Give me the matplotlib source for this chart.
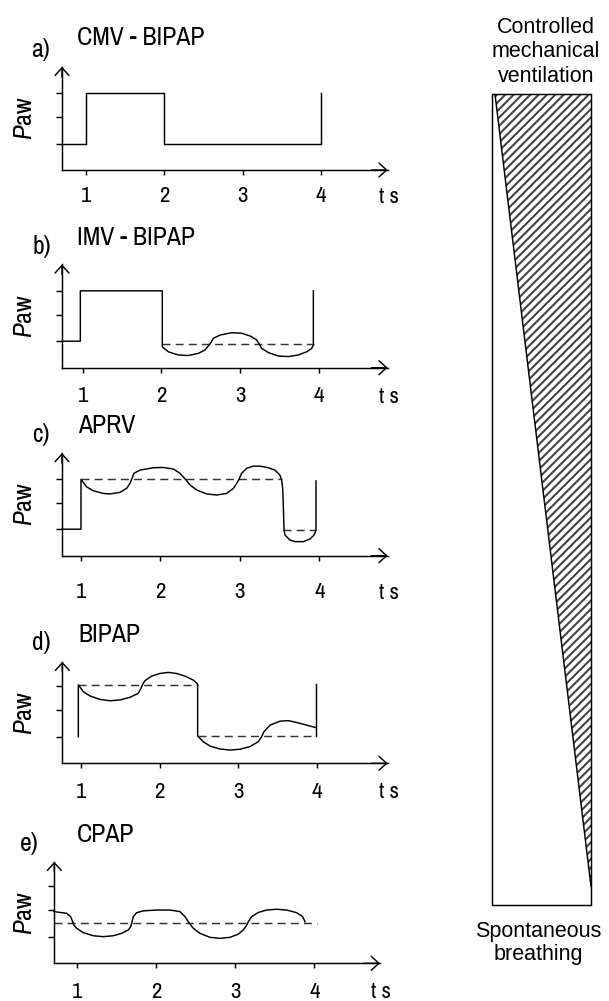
import matplotlib
matplotlib.use('Agg')
import matplotlib.pyplot as plt
from matplotlib import font_manager as fm
from matplotlib.patches import Polygon, Rectangle

# ---------------- data ----------------
tick_x = [1, 2, 3, 4]
tick_labels = ['1', '2', '3', '4']
level_ticks = [1, 2, 2.9]
panel_labels = ['a)', 'b)', 'c)', 'd)', 'e)']
panel_titles = ['CMV - BIPAP', 'IMV - BIPAP', 'APRV', 'BIPAP', 'CPAP']
x_label = 't s'
y_label = r'$P$aw'
top_text = ['Controlled', 'mechanical', 'ventilation']
bottom_text = ['Spontaneous', 'breathing']

# a) CMV - BIPAP
a_t = [0.70, 1.0, 1.0, 2.0, 2.0, 4.0, 4.0]
a_p = [1.0, 1.0, 2.9, 2.9, 1.0, 1.0, 2.9]

# b) IMV - BIPAP
b_t = [0.74, 0.97, 0.97, 2.01, 2.01, 2.087, 2.214, 2.340, 2.467, 2.552, 2.594,
       2.615, 2.658, 2.742, 2.890, 3.017, 3.123, 3.207, 3.241, 3.271, 3.356,
       3.483, 3.610, 3.736, 3.842, 3.906, 3.927, 3.927]
b_p = [1.0, 1.0, 2.9, 2.9, 0.79, 0.60, 0.48, 0.46, 0.54, 0.67, 0.82,
       0.89, 1.11, 1.23, 1.32, 1.30, 1.20, 1.05, 0.89, 0.73, 0.57,
       0.44, 0.42, 0.48, 0.60, 0.73, 0.856, 2.9]
b_ref_t = [2.01, 3.93]
b_ref_p = [0.89, 0.89]

# c) APRV
c_t = [0.76, 1.00, 1.00, 1.07, 1.155, 1.28, 1.365, 1.49, 1.575, 1.617, 1.638,
       1.667, 1.743, 1.911, 2.037, 2.163, 2.247, 2.297, 2.323, 2.373, 2.457,
       2.583, 2.709, 2.835, 2.919, 2.961, 2.990, 3.023, 3.087, 3.171, 3.254,
       3.359, 3.443, 3.506, 3.527, 3.540, 3.548, 3.557, 3.569, 3.632, 3.695,
       3.800, 3.884, 3.935, 3.960, 3.960]
c_p = [1.0, 1.0, 2.88, 2.60, 2.45, 2.35, 2.33, 2.39, 2.54, 2.73, 2.88,
       3.11, 3.23, 3.32, 3.33, 3.27, 3.11, 2.94, 2.86, 2.67, 2.48,
       2.33, 2.29, 2.35, 2.54, 2.73, 2.88, 3.11, 3.30, 3.38, 3.38,
       3.32, 3.23, 3.04, 2.86, 2.54, 1.91, 0.97, 0.78, 0.59, 0.53,
       0.53, 0.63, 0.78, 0.97, 2.82]
c_ref_hi_t = [1.00, 3.53]
c_ref_hi_p = [2.88, 2.88]
c_ref_lo_t = [3.55, 3.96]
c_ref_lo_p = [0.97, 0.97]

# d) BIPAP
d_t = [0.966, 0.966, 1.030, 1.115, 1.242, 1.369, 1.496, 1.623, 1.729, 1.763,
       1.784, 1.814, 1.899, 2.005, 2.111, 2.217, 2.323, 2.429, 2.484, 2.484,
       2.556, 2.641, 2.768, 2.895, 3.022, 3.150, 3.256, 3.298, 3.328, 3.405,
       3.532, 3.638, 3.744, 3.871, 3.990]
d_p = [1.0, 2.96, 2.70, 2.54, 2.41, 2.36, 2.39, 2.49, 2.64, 2.83,
       2.98, 3.12, 3.29, 3.39, 3.43, 3.39, 3.29, 3.14, 2.99, 1.03,
       0.816, 0.65, 0.54, 0.50, 0.53, 0.63, 0.816, 1.005, 1.19, 1.44,
       1.59, 1.61, 1.54, 1.44, 1.345]
d_end_t = [3.99, 3.99]
d_end_p = [1.03, 2.98]
d_ref_hi_t = [0.966, 2.484]
d_ref_hi_p = [2.96, 2.96]
d_ref_lo_t = [2.484, 3.99]
d_ref_lo_p = [1.03, 1.03]

# e) CPAP
e_t = [0.705, 0.781, 0.865, 0.916, 0.941, 0.958, 0.992, 1.076, 1.203, 1.329,
       1.456, 1.561, 1.646, 1.675, 1.688, 1.709, 1.751, 1.836, 2.004, 2.173,
       2.300, 2.363, 2.405, 2.426, 2.469, 2.553, 2.680, 2.806, 2.933, 3.038,
       3.101, 3.144, 3.165, 3.207, 3.292, 3.397, 3.524, 3.650, 3.777, 3.853,
       3.882]
e_p = [1.95, 1.92, 1.886, 1.76, 1.57, 1.44, 1.32, 1.155, 1.04, 1.005,
       1.04, 1.13, 1.26, 1.38, 1.51, 1.76, 1.91, 1.98, 2.01, 2.01,
       1.95, 1.76, 1.57, 1.48, 1.32, 1.13, 0.98, 0.94, 0.98, 1.10,
       1.26, 1.44, 1.57, 1.76, 1.92, 2.01, 2.04, 2.01, 1.91, 1.76,
       1.57]
e_ref_t = [0.705, 4.03]
e_ref_p = [1.51, 1.51]

# right schematic: hatched share of controlled ventilation
share_top_left = 0.033     # left edge of hatched wedge at the top
share_bottom_tip = 0.023   # height of the wedge tip at the bottom

# ---------------- fonts ----------------
REG = 'Liberation Sans'


def stretch_value(st):
    if isinstance(st, (int, float)):
        return st
    return fm.stretch_dict.get(st, 500)


narrow_name, narrow_stretch = None, 'normal'
pref = []
for f in fm.fontManager.ttflist:
    n = f.name
    if 'Serif' in n or 'Mono' in n or 'CJK' in n:
        continue
    if f.style != 'normal':
        continue
    w = f.weight if isinstance(f.weight, (int, float)) else fm.weight_dict.get(f.weight, 400)
    if w != 400:
        continue
    sv = stretch_value(f.stretch)
    if 'Narrow' in n or 'Condensed' in n or sv < 500:
        score = 0 if 'Liberation' in n else (1 if 'Arimo' in n or 'Helvet' in n else 2)
        pref.append((score, n, f.stretch))
pref.sort()
if pref:
    narrow_name, narrow_stretch = pref[0][1], pref[0][2]
    FS_TITLE, FS_PAW, FS_TICK = 18.5, 19, 16.5
else:
    narrow_name = REG
    FS_TITLE, FS_PAW, FS_TICK = 16, 16, 15

plt.rcParams['font.family'] = [narrow_name, REG, 'DejaVu Sans']
plt.rcParams['font.stretch'] = narrow_stretch
plt.rcParams['mathtext.fontset'] = 'custom'
plt.rcParams['mathtext.it'] = narrow_name + ':italic'
plt.rcParams['mathtext.rm'] = narrow_name
plt.rcParams['hatch.linewidth'] = 1.5

W, H, DPI = 609, 1001, 100
PX_PER_LEVEL = 26.5
LW = 1.05
DASH = (5.5, 3.5)
fig = plt.figure(figsize=(W / DPI, H / DPI), dpi=DPI)


def fbox(left, bottom, right, top):
    return [left / W, 1 - bottom / H, (right - left) / W, (bottom - top) / H]


# layout in pixels: (left, xaxis y, right, top), tick-1 px, px per unit, label offset
layout = [
    dict(box=(62, 170, 387.7, 66.7), t1=85.7, s=78.4, dy=25, lab=(31, 57), tit=(77, 45)),
    dict(box=(62, 367.7, 387.7, 264.3), t1=82.7, s=78.8, dy=27, lab=(33, 254), tit=(77, 245)),
    dict(box=(62, 555.7, 387.7, 453), t1=81, s=79.4, dy=35, lab=(32, 442), tit=(78, 433)),
    dict(box=(62.3, 763.3, 387.7, 661.7), t1=81, s=78.6, dy=27, lab=(32, 650), tit=(78, 642)),
    dict(box=(54.3, 963.3, 380, 861.7), t1=77.3, s=79.0, dy=27, lab=(20, 851), tit=(77, 842)),
]

axes = []
for i, L in enumerate(layout):
    left, bottom, right, top = L['box']
    ax = fig.add_axes(fbox(left, bottom, right, top))
    ax.set_xlim(1 + (left - L['t1']) / L['s'], 1 + (right - L['t1']) / L['s'])
    ax.set_ylim(0, (bottom - top) / PX_PER_LEVEL)
    ax.patch.set_visible(False)
    for sp in ('top', 'right'):
        ax.spines[sp].set_visible(False)
    for sp in ('left', 'bottom'):
        ax.spines[sp].set_linewidth(LW)
        ax.spines[sp].set_color('black')
    ax.set_xticks(tick_x, tick_labels)
    ax.set_yticks(level_ticks, [])
    pad_px = L['dy'] - 5 - 8.5
    ax.tick_params(axis='x', length=3.6, width=LW, direction='out',
                   pad=pad_px * 0.72, labelsize=FS_TICK)
    ax.tick_params(axis='y', length=4.3, width=LW, direction='out')
    arrow = dict(arrowstyle='->,head_length=0.55,head_width=0.5', lw=LW,
                 color='black', shrinkA=0, shrinkB=0)
    ax.annotate('', xy=(1, 0), xycoords='axes fraction', xytext=(0.95, 0),
                arrowprops=arrow, annotation_clip=False)
    ax.annotate('', xy=(0, 1), xycoords='axes fraction', xytext=(0, 0.9),
                arrowprops=arrow, annotation_clip=False)
    ax.annotate(x_label, xy=(1, 0), xycoords='axes fraction',
                xytext=(1, -(L['dy'] + 8) * 0.72), textcoords='offset points',
                ha='center', va='baseline', fontsize=FS_TICK, annotation_clip=False)
    fig.text(24 / W, 1 - ((top + bottom) / 2) / H, y_label, rotation=90,
             ha='center', va='center', fontsize=FS_PAW)
    fig.text(L['lab'][0] / W, 1 - L['lab'][1] / H, panel_labels[i],
             ha='left', va='baseline', fontsize=FS_TITLE)
    fig.text(L['tit'][0] / W, 1 - L['tit'][1] / H, panel_titles[i],
             ha='left', va='baseline', fontsize=FS_TITLE)
    axes.append(ax)

kw = dict(color='black', lw=LW, clip_on=False)
dkw = dict(color='#333333', lw=LW, dashes=DASH, clip_on=False)

axes[0].plot(a_t, a_p, **kw)

axes[1].plot(b_ref_t, b_ref_p, **dkw)
axes[1].plot(b_t, b_p, **kw)

axes[2].plot(c_ref_hi_t, c_ref_hi_p, **dkw)
axes[2].plot(c_ref_lo_t, c_ref_lo_p, **dkw)
axes[2].plot(c_t, c_p, **kw)

axes[3].plot(d_ref_hi_t, d_ref_hi_p, **dkw)
axes[3].plot(d_ref_lo_t, d_ref_lo_p, **dkw)
axes[3].plot(d_t, d_p, **kw)
axes[3].plot(d_end_t, d_end_p, **kw)

axes[4].plot(e_ref_t, e_ref_p, **dkw)
axes[4].plot(e_t, e_p, **kw)

# ---------------- right schematic ----------------
axr = fig.add_axes(fbox(491.7, 905, 591, 94))
axr.set_xlim(0, 1)
axr.set_ylim(0, 1)
axr.axis('off')
wedge = Polygon([(share_top_left, 1), (1, 1), (1, share_bottom_tip)], closed=True,
                facecolor='white', edgecolor='#444444', lw=0, hatch='////')
axr.add_patch(wedge)
axr.plot([share_top_left, 1], [1, share_bottom_tip], color='black', lw=LW)
axr.add_patch(Rectangle((0, 0), 1, 1, fill=False, edgecolor='black', lw=LW, clip_on=False))

for txt, yb in zip(top_text, [33, 57, 82]):
    fig.text(546 / W, 1 - yb / H, txt, ha='center', va='baseline',
             fontsize=15.5, family=[REG, 'DejaVu Sans'], stretch='normal')
for txt, yb in zip(bottom_text, [937, 960]):
    fig.text(538.5 / W, 1 - yb / H, txt, ha='center', va='baseline',
             fontsize=15.5, family=[REG, 'DejaVu Sans'], stretch='normal')

fig.savefig('out.png', dpi=DPI)
